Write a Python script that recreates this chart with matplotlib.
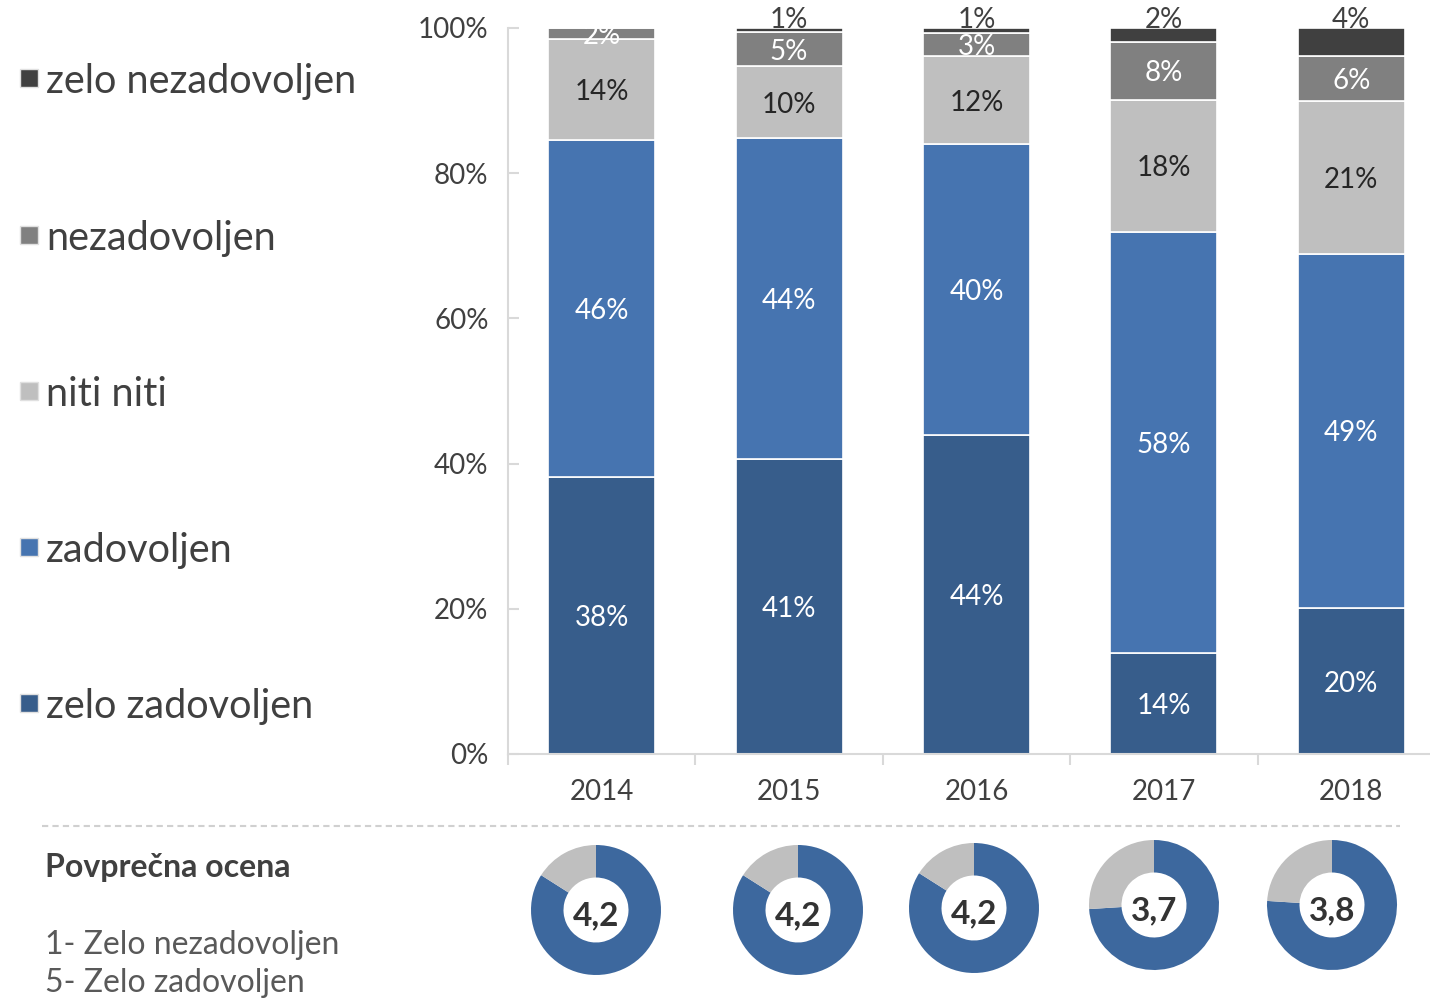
import numpy as np
import matplotlib.pyplot as plt
from matplotlib.patches import Rectangle
from matplotlib.lines import Line2D

plt.rcParams['font.family'] = ['Lato', 'DejaVu Sans']

# podatki
leta = ['2014', '2015', '2016', '2017', '2018']
kategorije = ['zelo zadovoljen', 'zadovoljen', 'niti niti', 'nezadovoljen', 'zelo nezadovoljen']
zelo_zadovoljen = [38.2, 40.6, 43.9, 13.9, 20.1]
zadovoljen = [46.4, 44.2, 40.1, 58.0, 48.8]
niti_niti = [13.9, 10.0, 12.1, 18.2, 21.0]
nezadovoljen = [1.5, 4.6, 3.2, 8.0, 6.2]
zelo_nezadovoljen = [0.0, 0.6, 0.7, 1.9, 3.9]
oznake = [
    ['38%', '41%', '44%', '14%', '20%'],
    ['46%', '44%', '40%', '58%', '49%'],
    ['14%', '10%', '12%', '18%', '21%'],
    ['2%', '5%', '3%', '8%', '6%'],
    ['', '1%', '1%', '2%', '4%'],
]
ocene = [4.2, 4.2, 4.2, 3.7, 3.8]
ocene_txt = ['4,2', '4,2', '4,2', '3,7', '3,8']

barve = ['#375D8B', '#4674B0', '#BFBFBF', '#808080', '#404040']
barve_txt = ['white', 'white', '#262626', 'white', '#404040']
siva_txt = '#404040'
os_barva = '#D9D9D9'

W, H = 1430, 998
fig = plt.figure(figsize=(W / 100, H / 100), dpi=100)

# glavni graf
ax = fig.add_axes([508 / W, (H - 754) / H, (1445 - 508) / W, 726 / H])
serije = [zelo_zadovoljen, zadovoljen, niti_niti, nezadovoljen, zelo_nezadovoljen]
x = np.arange(len(leta))
dno = np.zeros(len(leta))
for i, vals in enumerate(serije):
    vals = np.array(vals)
    ax.bar(x, vals, bottom=dno, width=0.57, color=barve[i], edgecolor='white', linewidth=1.2)
    for j in range(len(leta)):
        if oznake[i][j] == '':
            continue
        if i == 4:
            ax.text(x[j], 101.5, oznake[i][j], ha='center', va='center_baseline', fontsize=20,
                    color=barve_txt[i])
        else:
            ax.text(x[j], dno[j] + vals[j] / 2, oznake[i][j], ha='center',
                    va='center_baseline', fontsize=20, color=barve_txt[i])
    dno += vals

ax.set_xlim(-0.5, 4.5)
ax.set_ylim(0, 100)
ax.set_yticks(np.arange(0, 101, 20))
ax.set_yticklabels([f'{v}%' for v in range(0, 101, 20)])
ax.set_xticks(x)
ax.set_xticklabels(leta)
ax.set_xticks(np.arange(-0.5, 5, 1), minor=True)
ax.tick_params(axis='x', which='major', length=0, pad=18, labelsize=20, labelcolor=siva_txt)
ax.tick_params(axis='x', which='minor', length=8, color=os_barva, width=1.5, direction='out')
ax.tick_params(axis='y', length=8, color=os_barva, width=1.5, direction='in', pad=14,
               labelsize=20, labelcolor=siva_txt)
for lab in ax.get_yticklabels():
    lab.set_verticalalignment('center_baseline')
for s in ['top', 'right']:
    ax.spines[s].set_visible(False)
for s in ['left', 'bottom']:
    ax.spines[s].set_color(os_barva)
    ax.spines[s].set_linewidth(1.5)
ax.set_axisbelow(True)

# legenda
leg_y = [703, 547, 391, 235, 78]
for i, kat in enumerate(kategorije):
    y = leg_y[i]
    fig.patches.append(Rectangle((20 / W, (H - y - 9) / H), 18 / W, 18 / H,
                                 transform=fig.transFigure, facecolor=barve[i],
                                 edgecolor='#E0E0E0', linewidth=1))
    fig.text(46 / W, (H - y) / H, kat, fontsize=28.5, color=siva_txt,
             va='center_baseline', ha='left')

# črtkana črta
fig.add_artist(Line2D([42 / W, 1400 / W], [(H - 826) / H] * 2, transform=fig.transFigure,
                      color='#D0D0D0', linestyle=(0, (3, 2)), linewidth=1.5))

fig.text(45 / W, (H - 865) / H, 'Povprečna ocena', fontsize=23, fontweight='bold',
         color=siva_txt, va='center_baseline')
fig.text(45 / W, (H - 942) / H, '1- Zelo nezadovoljen', fontsize=23, color='#595959',
         va='center_baseline')
fig.text(45 / W, (H - 980) / H, '5- Zelo zadovoljen', fontsize=23, color='#595959',
         va='center_baseline')

# krogi s povprečno oceno
cx = [596, 798, 974, 1154, 1332]
cy = [910, 910, 908, 905, 905]
r = 65
for k, oc in enumerate(ocene):
    pa = fig.add_axes([(cx[k] - r) / W, (H - cy[k] - r) / H, 2 * r / W, 2 * r / H])
    pa.pie([oc, 5 - oc], colors=['#3D689E', '#BFBFBF'], startangle=90, counterclock=False,
           radius=1, wedgeprops=dict(width=0.5, linewidth=0))
    pa.set_xlim(-1, 1)
    pa.set_ylim(-1, 1)
    pa.set_aspect('equal')
    pa.text(0, -0.05, ocene_txt[k], ha='center', va='center_baseline', fontsize=24,
            fontweight='bold', color='#333333')
    pa.axis('off')

fig.savefig('out.png', dpi=100)
